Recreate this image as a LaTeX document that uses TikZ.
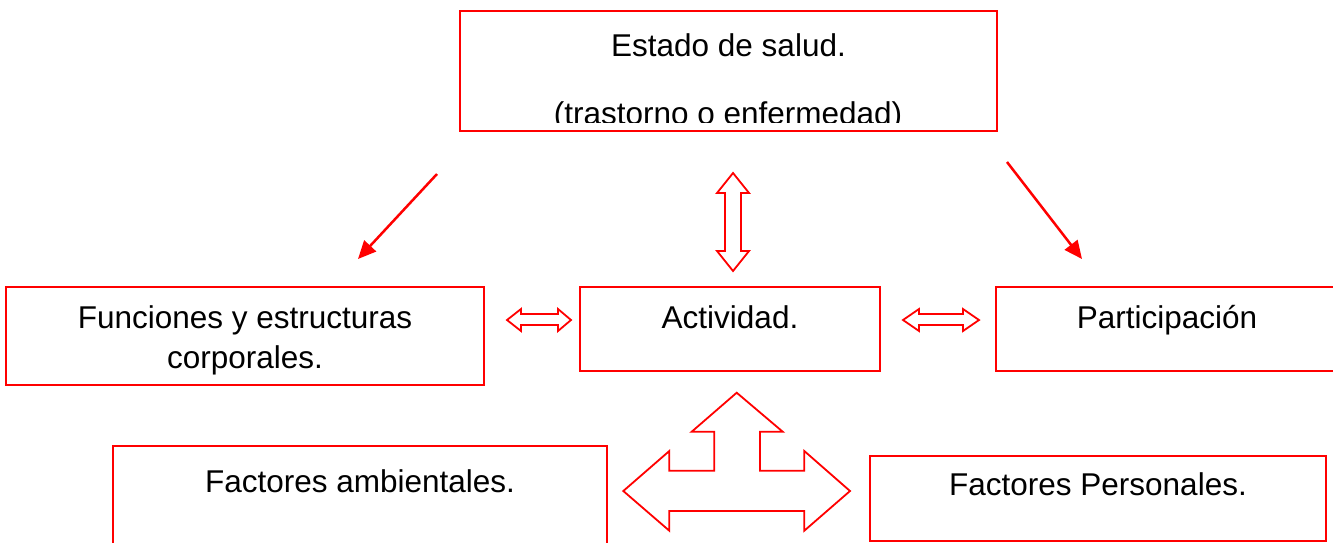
\documentclass[tikz,border=0pt]{standalone}
\usepackage{fontspec}
\setmainfont{Liberation Sans}
\usetikzlibrary{arrows.meta}
\begin{document}
\begin{tikzpicture}[x=1pt,y=-1pt,
  box/.style={draw=red, line width=2pt, inner sep=0pt},
  lbl/.style={anchor=base, inner sep=0pt, font=\fontsize{31.5}{40}\selectfont},
  hollow/.style={draw=red, line width=1.8pt, line join=miter},
  link/.style={draw=red, line width=2.5pt, -{Triangle[length=18pt,width=16pt]}}]
\useasboundingbox (0,0) rectangle (1333,542);
% boxes
\node[box, minimum width=537pt, minimum height=120pt] (salud) at (728.5,71) {};
\node[box, minimum width=478pt, minimum height=98pt] (func) at (245,336) {};
\node[box, minimum width=300pt, minimum height=84pt] (act) at (730,329) {};
\node[box, minimum width=349pt, minimum height=84pt] (part) at (1170.5,329) {};
\node[box, minimum width=494pt, minimum height=114pt] (amb) at (360,503) {};
\node[box, minimum width=456pt, minimum height=85pt] (pers) at (1098,498.5) {};
% texts
\node[lbl] (t1) at (728.5,56) {Estado de salud.};
\begin{scope}
\clip (461,12) rectangle (996,122);
\node[lbl] (t2) at (728,124) {(trastorno o enfermedad)};
\end{scope}
\node[lbl] (f1) at (245,328) {Funciones y estructuras};
\node[lbl] (f2) at (245,368) {corporales.};
\node[lbl] (ta) at (730,328) {Actividad.};
\node[lbl] (tp) at (1167,328) {Participación};
\node[lbl] (tam) at (360,492) {Factores ambientales.};
\node[lbl] (tpe) at (1098,495) {Factores Personales.};
% diagonal arrows
\coordinate (l1) at (437,174);
\coordinate (l2) at (358,259);
\coordinate (r1) at (1007,162);
\coordinate (r2) at (1082,259);
\draw[link] (l1) -- (l2);
\draw[link] (r1) -- (r2);
% hollow double arrows
\draw[hollow] (733,173) -- (749,193) -- (741,193) -- (741,251) -- (749,251) -- (733,271)
  -- (717,251) -- (725,251) -- (725,193) -- (717,193) -- cycle;
\draw[hollow] (507,320) -- (521,309) -- (521,314) -- (558,314) -- (558,309) -- (571,320)
  -- (558,331) -- (558,325) -- (521,325) -- (521,331) -- cycle;
\draw[hollow] (903,320) -- (919,309) -- (919,314) -- (963,314) -- (963,309) -- (979,320)
  -- (963,331) -- (963,325) -- (919,325) -- (919,331) -- cycle;
% three-way arrow
\draw[hollow] (736.7,392.7) -- (782.7,431.7) -- (760,431.7) -- (760,470.7) -- (804.3,470.7)
  -- (804.3,451) -- (850,491) -- (804.3,530.7) -- (804.3,511) -- (669.3,511) -- (669.3,530.7)
  -- (623.3,491) -- (669.3,451) -- (669.3,470.7) -- (714.3,470.7) -- (714.3,431.7)
  -- (691.7,431.7) -- cycle;
\end{tikzpicture}
\end{document}
